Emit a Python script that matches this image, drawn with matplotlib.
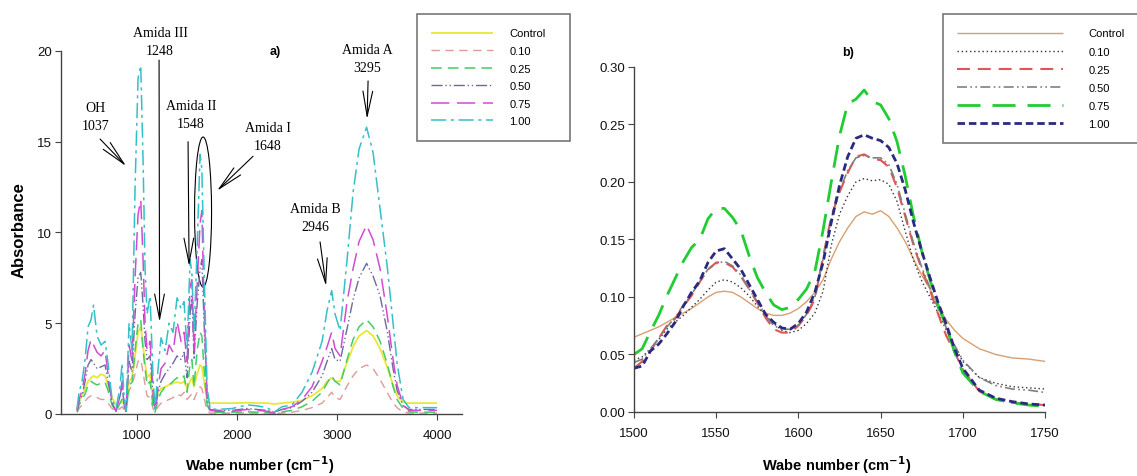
import matplotlib
matplotlib.use("Agg")
import matplotlib.pyplot as plt
from matplotlib.patches import Ellipse
from matplotlib.ticker import FormatStrFormatter

plt.rcParams['font.family'] = ['Liberation Sans', 'DejaVu Sans']

etiquetas = ["Control", "0.10", "0.25", "0.50", "0.75", "1.00"]

# ---- panel a) espectro completo ----
onda_a = [400, 420, 450, 480, 510, 540, 565, 600, 640, 680, 710, 750, 790, 830, 850,
          870, 890, 920, 950, 980, 1010, 1037, 1060, 1080, 1100, 1130, 1160, 1180, 1210,
          1240, 1280, 1320, 1360, 1400, 1440, 1470, 1500, 1530, 1548, 1570, 1600, 1630,
          1648, 1670, 1700, 1730, 1800, 1950, 2100, 2200, 2300, 2370, 2450, 2550, 2650,
          2750, 2850, 2900, 2946, 2980, 3030, 3100, 3160, 3220, 3295, 3360, 3430, 3500,
          3560, 3600, 3660, 3720, 3800, 4000]

control_a = [0.3, 0.7, 1.0, 1.4, 1.8, 2.0, 2.1, 2.0, 2.2, 2.1, 1.6, 0.9, 0.5, 0.6, 0.7,
             0.5, 0.4, 1.8, 2.0, 3.2, 4.5, 4.8, 3.8, 2.8, 2.0, 2.2, 0.8, 0.4, 1.2,
             1.4, 1.5, 1.6, 1.7, 1.75, 1.7, 1.8, 1.4, 1.8, 2.0, 1.5, 2.2, 2.7,
             2.6, 1.8, 0.7, 0.6, 0.6, 0.6, 0.62, 0.6, 0.6, 0.55, 0.6, 0.65, 0.75,
             1.0, 1.4, 1.8, 2.0, 1.8, 1.8, 2.85, 3.7, 4.3, 4.6, 4.3, 3.6, 2.6,
             1.6, 1.0, 0.65, 0.6, 0.6, 0.6]
c010_a = [0.1, 0.3, 0.5, 0.7, 0.9, 1.0, 1.0, 0.9, 0.8, 0.8, 0.6, 0.3, 0.15, 0.3, 0.4,
          0.25, 0.15, 1.3, 1.6, 2.2, 2.9, 3.0, 2.3, 1.6, 1.0, 0.9, 0.3, 0.1, 0.4,
          0.6, 0.7, 0.8, 0.9, 1.1, 1.0, 1.2, 0.8, 1.0, 1.1, 0.8, 1.2, 1.5,
          1.4, 0.9, 0.2, 0.05, 0.05, 0.05, 0.06, 0.05, 0.05, 0.03, 0.05, 0.1, 0.2,
          0.35, 0.6, 0.9, 1.2, 0.9, 0.8, 1.55, 2.1, 2.5, 2.7, 2.5, 1.9, 1.2,
          0.6, 0.35, 0.1, 0.05, 0.05, 0.05]
c025_a = [0.1, 0.5, 0.8, 1.1, 1.6, 1.8, 1.7, 1.6, 1.7, 1.75, 1.3, 0.5, 0.15, 0.6, 0.8,
          0.4, 0.15, 1.6, 1.75, 3.5, 5.0, 5.2, 3.5, 2.5, 1.6, 1.8, 0.4, 0.1, 0.8,
          1.2, 1.5, 1.6, 1.8, 2.0, 1.9, 2.1, 1.2, 2.8, 3.0, 1.5, 3.5, 4.5,
          4.3, 2.5, 0.5, 0.15, 0.1, 0.1, 0.12, 0.1, 0.1, 0.05, 0.12, 0.2, 0.4,
          0.7, 1.2, 1.7, 2.1, 1.8, 1.6, 3.0, 4.1, 4.8, 5.2, 4.8, 4.0, 2.8,
          1.5, 0.8, 0.3, 0.12, 0.1, 0.1]
c050_a = [0.2, 0.7, 1.0, 1.8, 2.7, 3.0, 2.8, 2.5, 2.6, 2.7, 1.8, 0.6, 0.15, 1.0, 1.6,
          0.5, 0.15, 2.9, 2.3, 5.5, 7.5, 7.8, 6.0, 4.0, 3.0, 3.2, 1.0, 0.2, 1.2,
          1.8, 2.2, 2.5, 2.8, 3.2, 3.0, 3.4, 2.0, 5.5, 6.5, 3.0, 6.0, 8.0,
          8.5, 5.0, 0.8, 0.25, 0.2, 0.2, 0.3, 0.25, 0.2, 0.1, 0.25, 0.35, 0.7,
          1.2, 2.1, 2.9, 3.6, 3.0, 2.9, 4.7, 6.3, 7.5, 8.3, 7.6, 6.5, 4.6,
          2.5, 1.3, 0.45, 0.25, 0.25, 0.25]
c075_a = [0.2, 0.8, 1.3, 2.2, 3.5, 4.1, 3.8, 3.4, 3.2, 3.5, 2.2, 0.6, 0.15, 1.0, 1.8,
          0.6, 0.15, 3.8, 2.9, 7.5, 11.0, 11.8, 8.5, 5.0, 3.5, 4.0, 1.2, 0.2, 1.5,
          2.5, 2.8, 3.8, 3.4, 5.1, 4.0, 4.5, 2.9, 7.0, 7.4, 3.5, 7.0, 10.5,
          11.2, 6.0, 1.0, 0.2, 0.15, 0.15, 0.25, 0.2, 0.15, 0.05, 0.25, 0.4, 0.8,
          1.5, 2.9, 3.7, 4.5, 3.6, 3.2, 6.2, 8.0, 9.5, 10.4, 9.6, 8.0, 5.5,
          3.0, 1.6, 0.5, 0.2, 0.2, 0.2]
c100_a = [0.3, 1.2, 1.8, 3.0, 4.8, 5.2, 6.0, 4.3, 3.8, 4.0, 2.8, 0.8, 0.3, 1.5, 2.8,
          1.0, 0.2, 5.0, 3.5, 12.5, 18.5, 19.2, 14.0, 8.0, 5.5, 6.5, 2.0, 0.3, 2.5,
          4.2, 3.5, 5.0, 4.5, 6.4, 5.8, 6.2, 3.5, 8.5, 7.8, 4.5, 9.0, 14.3,
          13.5, 8.0, 1.5, 0.3, 0.25, 0.3, 0.5, 0.45, 0.35, 0.1, 0.4, 0.5, 1.2,
          2.3, 4.0, 5.7, 6.8, 5.5, 4.6, 8.5, 12.2, 14.6, 15.8, 14.4, 11.3, 8.2,
          5.0, 2.8, 0.8, 0.35, 0.35, 0.35]

# ---- panel b) zona amida I / amida II ----
onda_b = [1500, 1505, 1510, 1515, 1520, 1525, 1530, 1535, 1540, 1545, 1550, 1555, 1560,
          1565, 1570, 1575, 1580, 1585, 1590, 1595, 1600, 1605, 1610, 1615, 1620, 1625,
          1630, 1635, 1640, 1645, 1650, 1655, 1660, 1665, 1670, 1675, 1680, 1685, 1690,
          1695, 1700, 1710, 1720, 1730, 1740, 1750]

control_b = [0.065, 0.068, 0.071, 0.074, 0.078, 0.082, 0.086, 0.090, 0.095, 0.100, 0.104,
             0.105, 0.104, 0.100, 0.095, 0.090, 0.086, 0.084, 0.084, 0.086, 0.090, 0.096,
             0.104, 0.115, 0.133, 0.148, 0.160, 0.170, 0.174, 0.172, 0.175, 0.170, 0.160,
             0.148, 0.133, 0.119, 0.107, 0.092, 0.080, 0.071, 0.064, 0.055, 0.050, 0.047,
             0.046, 0.044]
c010_b = [0.045, 0.048, 0.055, 0.063, 0.072, 0.078, 0.084, 0.091, 0.098, 0.106, 0.113,
          0.115, 0.113, 0.108, 0.101, 0.092, 0.084, 0.077, 0.071, 0.069, 0.071, 0.077,
          0.086, 0.105, 0.145, 0.172, 0.188, 0.200, 0.203, 0.201, 0.202, 0.198, 0.183,
          0.157, 0.132, 0.114, 0.100, 0.086, 0.071, 0.057, 0.044, 0.030, 0.025, 0.022,
          0.021, 0.020]
c025_b = [0.038, 0.044, 0.053, 0.064, 0.075, 0.081, 0.092, 0.101, 0.113, 0.124, 0.130,
          0.130, 0.126, 0.118, 0.107, 0.095, 0.082, 0.072, 0.069, 0.069, 0.075, 0.084,
          0.098, 0.135, 0.170, 0.191, 0.208, 0.222, 0.224, 0.220, 0.219, 0.213, 0.195,
          0.170, 0.145, 0.124, 0.106, 0.085, 0.066, 0.052, 0.037, 0.018, 0.011, 0.008,
          0.007, 0.006]
c050_b = [0.043, 0.046, 0.055, 0.064, 0.074, 0.082, 0.093, 0.102, 0.114, 0.124, 0.129,
          0.131, 0.127, 0.119, 0.107, 0.096, 0.084, 0.075, 0.072, 0.072, 0.076, 0.085,
          0.100, 0.133, 0.168, 0.192, 0.210, 0.221, 0.223, 0.221, 0.221, 0.215, 0.198,
          0.172, 0.147, 0.126, 0.108, 0.090, 0.073, 0.058, 0.045, 0.030, 0.023, 0.020,
          0.019, 0.017]
c075_b = [0.050, 0.055, 0.070, 0.084, 0.101, 0.116, 0.131, 0.143, 0.150, 0.168, 0.177,
          0.177, 0.169, 0.158, 0.136, 0.117, 0.104, 0.093, 0.089, 0.091, 0.098, 0.107,
          0.122, 0.158, 0.200, 0.240, 0.268, 0.272, 0.280, 0.270, 0.267, 0.255, 0.235,
          0.205, 0.170, 0.140, 0.115, 0.093, 0.074, 0.052, 0.034, 0.018, 0.011, 0.008,
          0.006, 0.005]
c100_b = [0.038, 0.040, 0.053, 0.059, 0.068, 0.078, 0.092, 0.104, 0.114, 0.130, 0.140,
          0.142, 0.133, 0.124, 0.111, 0.098, 0.085, 0.078, 0.073, 0.072, 0.077, 0.087,
          0.104, 0.130, 0.165, 0.197, 0.222, 0.238, 0.241, 0.238, 0.236, 0.230, 0.216,
          0.193, 0.165, 0.140, 0.117, 0.095, 0.076, 0.055, 0.038, 0.019, 0.012, 0.009,
          0.007, 0.006]

series_a = [control_a, c010_a, c025_a, c050_a, c075_a, c100_a]
series_b = [control_b, c010_b, c025_b, c050_b, c075_b, c100_b]

# estilos (color, trazo, grosor)
estilo_a = [("#e8e838", (0, ()), 1.3),
            ("#e09a9a", (0, (6, 4)), 1.0),
            ("#44cc66", (0, (7, 4)), 1.1),
            ("#6a6aa0", (0, (8, 2, 1, 2, 1, 2)), 1.0),
            ("#d04cd0", (0, (12, 5)), 1.1),
            ("#34c0c8", (0, (10, 3, 2, 3)), 1.1)]
estilo_b = [("#d8a070", (0, ()), 1.0),
            ("#333333", (0, (1, 2)), 1.0),
            ("#e05555", (0, (6.2, 3.8)), 1.5),
            ("#808080", (0, (6, 2, 1, 2, 1, 2)), 1.2),
            ("#22cc33", (0, (8.3, 4.3)), 2.0),
            ("#2a2a80", (0, (2.7, 1.4)), 2.0)]

fig = plt.figure(figsize=(11.37, 4.77), dpi=100)
ax1 = fig.add_axes([0.0537, 0.130, 0.3527, 0.761])
ax2 = fig.add_axes([0.5576, 0.1342, 0.3615, 0.7233])

for ax in (ax1, ax2):
    for lado in ["top", "right"]:
        ax.spines[lado].set_visible(False)
    for lado in ["left", "bottom"]:
        ax.spines[lado].set_color("#444444")
        ax.spines[lado].set_linewidth(1.0)
    ax.tick_params(direction="out", length=4, width=0.8, color="#444444",
                   labelsize=9.5, labelcolor="#111111")
    ax.tick_params(axis="x", pad=7)
    ax.tick_params(axis="y", pad=2.5)

# Graficar panel a
lineas_a = []
for y, (col, ls, lw), lab in zip(series_a, estilo_a, etiquetas):
    l, = ax1.plot(onda_a, y, color=col, linestyle=ls, linewidth=lw, label=lab)
    lineas_a.append(l)

ax1.set_xlim(240, 4250)
ax1.set_ylim(0, 20)
ax1.set_xticks([1000, 2000, 3000, 4000])
ax1.set_yticks([0, 5, 10, 15, 20])
ax1.set_ylabel("Absorbance", fontsize=12, fontweight="bold")
ax1.yaxis.set_label_coords(-0.087, 0.51)
ax1.set_xlabel("Wabe number (cm$^{\\mathbf{-1}}$)", fontsize=10.5, fontweight="bold")
ax1.xaxis.set_label_coords(0.496, -0.108)
ax1.text(0.534, 1.0, "a)", transform=ax1.transAxes, fontsize=9, fontweight="bold",
         ha="center", va="center")

# Bandas senaladas
serif = ['Liberation Serif', 'DejaVu Serif']
flecha = dict(arrowstyle="->,head_length=1.8,head_width=0.35", lw=0.8, color="black",
              shrinkA=0, shrinkB=0)
bandas = [("Amida III\n1248", (1230, 20.55), (1220, 19.5), (1225, 5.07)),
          ("OH\n1037", (580, 16.4), (630, 15.15), (890, 13.66)),
          ("Amida II\n1548", (1540, 16.5), (1510, 15.0), (1520, 8.15)),
          ("Amida I\n1648", (2310, 15.3), (2160, 14.2), (1800, 12.3)),
          ("Amida B\n2946", (2780, 10.8), (2830, 9.48), (2890, 7.05)),
          ("Amida A\n3295", (3300, 19.6), (3310, 18.35), (3300, 16.25))]
for texto, pos, cola, punta in bandas:
    ax1.text(pos[0], pos[1], texto, family=serif, fontsize=10, ha="center",
             va="center", linespacing=1.5, clip_on=False)
    ax1.annotate("", xy=punta, xytext=cola, arrowprops=flecha, annotation_clip=False)
ax1.add_patch(Ellipse((1660, 11.13), 170, 8.26, fill=False, lw=0.8, ec="black"))

leg1 = ax1.legend(handles=lineas_a, loc="upper left",
                  bbox_to_anchor=(0.3668, 0.9686 - 0.266, 0.1346, 0.266),
                  bbox_transform=fig.transFigure, mode="expand", borderaxespad=0,
                  fontsize=8, handlelength=5.5, handletextpad=1.5, labelspacing=0.68,
                  borderpad=1.3, fancybox=False, edgecolor="#555555")
leg1.get_frame().set_linewidth(1.2)

# Graficar panel b
lineas_b = []
for y, (col, ls, lw), lab in zip(series_b, estilo_b, etiquetas):
    l, = ax2.plot(onda_b, y, color=col, linestyle=ls, linewidth=lw, label=lab)
    lineas_b.append(l)

ax2.set_xlim(1500, 1750)
ax2.set_ylim(0, 0.30)
ax2.set_xticks([1500, 1550, 1600, 1650, 1700, 1750])
ax2.set_yticks([0, 0.05, 0.10, 0.15, 0.20, 0.25, 0.30])
ax2.yaxis.set_major_formatter(FormatStrFormatter("%.2f"))
ax2.set_xlabel("Wabe number (cm$^{\\mathbf{-1}}$)", fontsize=10.5, fontweight="bold")
ax2.xaxis.set_label_coords(0.494, -0.119)
ax2.text(0.52, 1.043, "b)", transform=ax2.transAxes, fontsize=9, fontweight="bold",
         ha="center", va="center")

leg2 = ax2.legend(handles=lineas_b, loc="upper left",
                  bbox_to_anchor=(0.8294, 0.9686 - 0.268, 0.178, 0.268),
                  bbox_transform=fig.transFigure, mode="expand", borderaxespad=0,
                  fontsize=8, handlelength=9.5, handletextpad=2.3, labelspacing=0.73,
                  borderpad=1.3, fancybox=False, edgecolor="#555555")
leg2.get_frame().set_linewidth(1.2)

fig.savefig("out.png", dpi=100)
